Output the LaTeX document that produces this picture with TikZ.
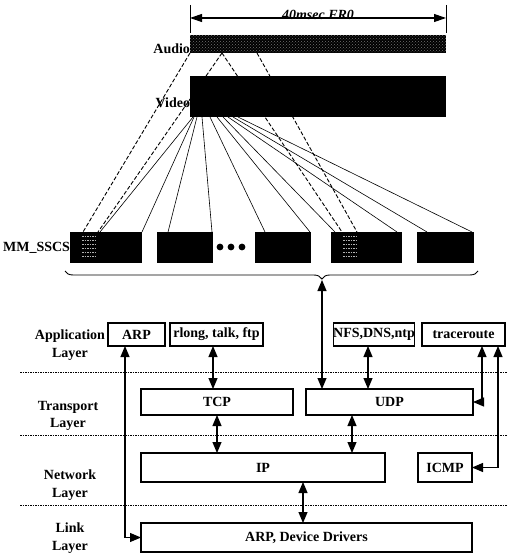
\documentclass[tikz,border=0pt]{standalone}
\usepackage{fontspec}
\setmainfont{Liberation Serif}
\usetikzlibrary{arrows.meta,patterns,decorations.pathreplacing}
\begin{document}
\begin{tikzpicture}[x=1pt,y=-1pt,
  lbl/.style={font=\fontsize{14}{17.5}\selectfont\bfseries, inner sep=0pt, outer sep=0pt},
  lay/.style={lbl, align=center},
  pbox/.style={draw, line width=1.1pt, lbl, fill=white},
  blk/.style={fill=none, draw=none, inner sep=0pt, outer sep=0pt},
  arr/.style={line width=1.1pt, {Triangle[length=11pt,width=9pt]}-{Triangle[length=11pt,width=9pt]}},
  vline/.style={line width=0.6pt},
  aline/.style={line width=0.9pt, dash pattern=on 4pt off 2pt},
  sep/.style={line width=0.7pt, dash pattern=on 1.5pt off 1pt}
]
\useasboundingbox (0,0) rectangle (507,556);

% ---------- frame dimension ----------
\coordinate (dl) at (190,18);
\coordinate (dr) at (446,18);
\draw[line width=0.9pt] (190,5) -- (190,33);
\draw[line width=0.9pt] (446,5) -- (446,33);
\draw[line width=1.1pt, {Triangle[length=12pt,width=8pt]}-{Triangle[length=12pt,width=8pt]}] (dl) -- (dr);
\node[lbl, font=\fontsize{14}{15}\selectfont\bfseries\itshape, anchor=south] (frlab) at (318,20) {40msec FR0};

% ---------- bars (nodes for anchors) ----------
\node[blk, minimum width=256pt, minimum height=18pt] (audio) at (318,44) {};
\node[blk, minimum width=256pt, minimum height=41pt] (video) at (318,96.5) {};

% ---------- MM_SSCS boxes ----------
\node[blk, minimum width=72pt, minimum height=31pt] (m1) at (106,247.5) {};
\node[blk, minimum width=56pt, minimum height=31pt] (m2) at (185,247.5) {};
\node[blk, minimum width=56pt, minimum height=31pt] (m3) at (283,247.5) {};
\node[blk, minimum width=71pt, minimum height=31pt] (m4) at (366.5,247.5) {};
\node[blk, minimum width=57pt, minimum height=31pt] (m5) at (445.5,247.5) {};

% audio mapping (dashed), behind the video bar
\draw[aline] (audio.south west) -- ([xshift=13pt]m1.north west);
\draw[aline] ([xshift=32pt]audio.south west) -- ([xshift=28pt]m1.north west);
\draw[aline] ([xshift=32pt]audio.south west) -- ([xshift=11pt]m4.north west);
\draw[aline] ([xshift=67pt]audio.south west) -- ([xshift=26pt]m4.north west);

% bars drawn on top
\fill[black] (audio.north west) rectangle (audio.south east);
\fill[pattern=crosshatch dots, pattern color=black!55] (audio.north west) rectangle (audio.south east);
\fill[black] (video.north west) rectangle (video.south east);

% video mapping (solid)
\draw[vline] ([xshift=3pt]video.south west) -- ([xshift=30pt]m1.north west);
\draw[vline] ([xshift=4pt]video.south west) -- (m1.north east);
\draw[vline] ([xshift=7pt]video.south west) -- ([xshift=11pt]m2.north west);
\draw[vline] ([xshift=12pt]video.south west) -- ([xshift=-1pt]m2.north east);
\draw[vline] ([xshift=20pt]video.south west) -- ([xshift=10pt]m3.north west);
\draw[vline] ([xshift=27pt]video.south west) -- ([xshift=-1pt]m3.north east);
\draw[vline] ([xshift=33pt]video.south west) -- ([xshift=4pt]m4.north west);
\draw[vline] ([xshift=38pt]video.south west) -- ([xshift=-5pt]m4.north east);
\draw[vline] ([xshift=43pt]video.south west) -- ([xshift=10pt]m5.north west);
\draw[vline] ([xshift=48pt]video.south west) -- ([xshift=-2pt]m5.north east);

% fill MM boxes
\foreach \b in {m1,m2,m3,m4,m5} \fill[black] (\b.north west) rectangle (\b.south east);
% audio samples inside boxes 1 and 4
\foreach \b in {m1,m4} {
  \foreach \k in {0,...,5}
    \draw[white!70!black, line width=0.5pt, dash pattern=on 1.5pt off 1pt] ([xshift=12pt,yshift=-4pt-4*\k pt]\b.north west) -- ++(14,0);
}

\node[lbl, anchor=south east] (audlab) at (190,54) {Audio};
\node[lbl, anchor=east] (vidlab) at (190,103) {Video};
\node[lbl, anchor=east] (mmlab) at (70,248) {MM\_SSCS};

% dots
\fill (220,247) circle (3.4pt);
\fill (231,247) circle (3.4pt);
\fill (242,247) circle (3.4pt);

% brace
\draw[line width=0.9pt, decorate, decoration={brace, mirror, amplitude=8pt, aspect=0.622}] (65,271) -- (478,271);
\coordinate (bt) at (322,280);

% ---------- protocol stack ----------
\draw[sep] (20,372) -- (507,372);
\draw[sep] (20,435) -- (507,435);
\draw[sep] (20,505) -- (507,505);

\node[lay] (l1) at (70,345) {Application\\Layer};
\node[lay] (l2) at (68,416) {Transport\\Layer};
\node[lay] (l3) at (70,485) {Network\\Layer};
\node[lay] (l4) at (70,538) {Link\\Layer};

\node[pbox, minimum width=57pt, minimum height=23pt] (arp) at (136.5,334.5) {ARP};
\node[pbox, minimum width=93pt, minimum height=23pt] (rl) at (216.5,334.5) {rlong, talk, ftp};
\node[pbox, minimum width=80pt, minimum height=23pt] (nfs) at (374,334.5) {NFS,DNS,ntp};
\node[pbox, minimum width=83pt, minimum height=23pt] (tr) at (463.5,334.5) {traceroute};
\node[pbox, minimum width=152pt, minimum height=26pt] (tcp) at (217,402) {TCP};
\node[pbox, minimum width=167pt, minimum height=26pt] (udp) at (389.5,402) {UDP};
\node[pbox, minimum width=244pt, minimum height=29pt] (ip) at (263,467.5) {IP};
\node[pbox, minimum width=54pt, minimum height=29pt] (icmp) at (445,467.5) {ICMP};
\node[pbox, minimum width=331pt, minimum height=29pt] (drv) at (306.5,537.5) {ARP, Device Drivers};

\coordinate (xa) at (125,0);
\coordinate (xr) at (213,0);
\coordinate (xn) at (368,0);
\coordinate (xt1) at (482,0);
\coordinate (xt2) at (498,0);
\coordinate (xtcp) at (217,0);
\coordinate (xudp) at (352,0);
\coordinate (xip) at (303,0);

\draw[arr] (bt) -- (bt |- udp.north);
\draw[arr] (xa |- arp.south) |- (drv.west);
\draw[arr] (xr |- rl.south) -- (xr |- tcp.north);
\draw[arr] (xn |- nfs.south) -- (xn |- udp.north);
\draw[arr] (xt1 |- tr.south) |- (udp.east);
\draw[arr] (xt2 |- tr.south) |- (icmp.east);
\draw[arr] (xtcp |- tcp.south) -- (xtcp |- ip.north);
\draw[arr] (xudp |- udp.south) -- (xudp |- ip.north);
\draw[arr] (xip |- ip.south) -- (xip |- drv.north);
\end{tikzpicture}
\end{document}
